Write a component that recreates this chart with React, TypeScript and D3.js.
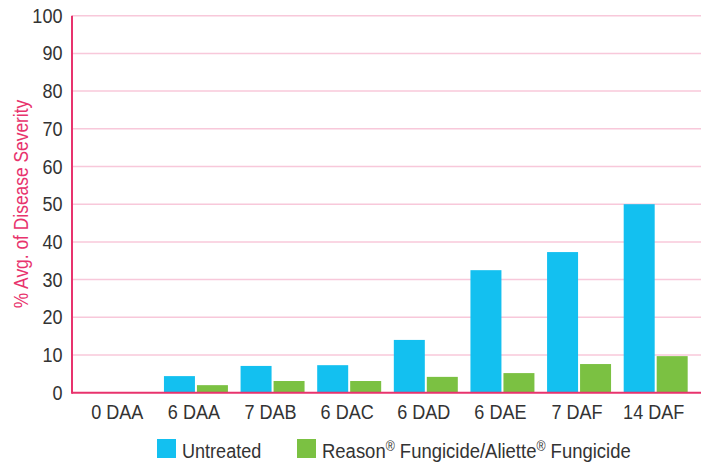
import React from "react";
import * as d3 from "d3";

const categories = ["0 DAA", "6 DAA", "7 DAB", "6 DAC", "6 DAD", "6 DAE", "7 DAF", "14 DAF"];
const untreated = [0, 4.4, 7.1, 7.3, 14.0, 32.5, 37.3, 50.0];
const reason = [0, 2.0, 3.1, 3.1, 4.2, 5.2, 7.6, 9.7];
const seriesNames = ["Untreated", "Reason"];
const yTicks = [0, 10, 20, 30, 40, 50, 60, 70, 80, 90, 100];

const W = 706;
const H = 463;
const FONT = "'Liberation Sans', Arial, sans-serif";
const BLUE = "#13c0f0";
const GREEN = "#7bc142";
const PINK = "#e8336d";
const GRID = "#f8c8da";
const TEXT = "#333333";
const SX = 0.86;

export default function App() {
  const y = d3.scaleLinear().domain([0, 100]).range([392.7, 15.7]);
  const x0 = d3
    .scaleBand<string>()
    .domain(categories)
    .range([81, 694])
    .paddingInner(0.165)
    .paddingOuter(0.0825);
  const x1 = d3
    .scaleBand<string>()
    .domain(seriesNames)
    .range([0, x0.bandwidth()])
    .paddingInner(0.0606)
    .paddingOuter(0);
  const series = [
    { name: "Untreated", values: untreated, color: BLUE },
    { name: "Reason", values: reason, color: GREEN },
  ];
  const left = 72;
  const right = 701;

  return (
    <svg width={W} height={H} style={{ position: "absolute", left: 0, top: 0 }} fontFamily={FONT}>
      {yTicks.map((t) => (
        <g key={t}>
          {t > 0 && <line x1={left} x2={right} y1={y(t)} y2={y(t)} stroke={GRID} strokeWidth={1.5} />}
          <text
            transform={`translate(62.5,${y(t) + 7}) scale(${SX},1)`}
            textAnchor="end"
            fontSize={21}
            fill={TEXT}
          >
            {t}
          </text>
        </g>
      ))}
      {series.map((s) =>
        categories.map((c, i) => (
          <rect
            key={s.name + c}
            x={(x0(c) as number) + (x1(s.name) as number)}
            y={y(s.values[i])}
            width={x1.bandwidth()}
            height={y(0) - y(s.values[i])}
            fill={s.color}
          />
        ))
      )}
      <line x1={left} x2={left} y1={y(100)} y2={y(0) + 1} stroke={PINK} strokeWidth={2} />
      <line x1={left} x2={right} y1={y(0)} y2={y(0)} stroke={PINK} strokeWidth={2} />
      {categories.map((c) => (
        <text
          key={c}
          transform={`translate(${(x0(c) as number) + x0.bandwidth() / 2 - 2},419.3) scale(${SX},1)`}
          textAnchor="middle"
          fontSize={21}
          fill={TEXT}
        >
          {c}
        </text>
      ))}
      <text
        transform={`translate(28,204) rotate(-90) scale(0.87,1)`}
        textAnchor="middle"
        fontSize={20}
        fill={PINK}
      >
        % Avg. of Disease Severity
      </text>
      <rect x={157} y={439} width={19} height={19} fill={BLUE} />
      <text transform={`translate(182,458.3) scale(${SX},1)`} fontSize={21} fill={TEXT}>
        Untreated
      </text>
      <rect x={297} y={439} width={19} height={19} fill={GREEN} />
      <text transform={`translate(322,458.3) scale(0.88,1)`} fontSize={21} fill={TEXT}>
        Reason
        <tspan fontSize={14} dy={-7}>®</tspan>
        <tspan dy={7}> Fungicide/Aliette</tspan>
        <tspan fontSize={14} dy={-7}>®</tspan>
        <tspan dy={7}> Fungicide</tspan>
      </text>
    </svg>
  );
}
